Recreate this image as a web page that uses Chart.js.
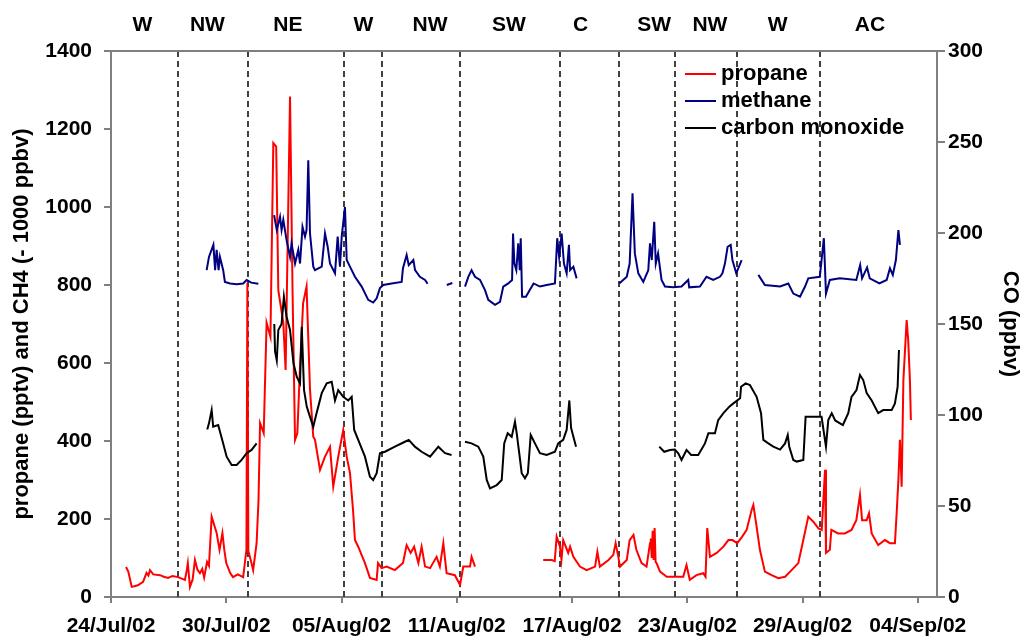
<!DOCTYPE html>
<html><head><meta charset="utf-8">
<script src="https://cdn.jsdelivr.net/npm/chart.js@4.4.0/dist/chart.umd.min.js"></script>
<style>html,body{margin:0;padding:0;background:#fff;}#wrap{width:1025px;height:640px;}</style>
</head><body><div id="wrap"><canvas id="c" width="1025" height="640"></canvas></div>
<script>
// x axis: days since 24/Jul/02 00:00
const tickDays = [0,6,12,18,24,30,36,42];
const tickLabels = ['24/Jul/02','30/Jul/02','05/Aug/02','11/Aug/02','17/Aug/02','23/Aug/02','29/Aug/02','04/Sep/02'];
const sectorDays = [3.49,7.13,12.13,14.1,18.17,23.37,26.44,29.36,32.59,36.9];
const regionLabels = ['W','NW','NE','W','NW','SW','C','SW','NW','W','AC'];
const regionDays = [1.64,5.02,9.21,13.14,16.61,20.72,24.45,28.27,31.18,34.7,39.51];

// propane (pptv), [day, value]
const propane = [[0.78,77],[0.9,65],[1.08,26],[1.4,30],[1.67,39],[1.85,62],[1.95,55],[2.03,69],[2.2,58],[2.55,56],[2.75,52],[2.97,49],[3.2,54],[3.49,51],[3.85,44],[3.95,70],[4.0,87],[4.11,26],[4.25,45],[4.37,95],[4.5,70],[4.63,61],[4.75,72],[4.85,50],[5.0,90],[5.1,80],[5.24,206],[5.4,180],[5.5,164],[5.65,121],[5.8,164],[5.9,120],[6.0,87],[6.2,62],[6.35,51],[6.6,58],[6.88,51],[7.05,121],[7.1,805],[7.15,118],[7.3,90],[7.4,69],[7.58,138],[7.68,250],[7.76,446],[7.95,420],[8.1,703],[8.3,667],[8.45,1164],[8.6,1155],[8.71,787],[8.97,703],[9.09,582],[9.32,1283],[9.45,787],[9.58,403],[9.7,420],[9.84,590],[10.0,753],[10.18,796],[10.36,531],[10.53,411],[10.62,403],[10.88,326],[11.14,360],[11.4,385],[11.57,283],[11.83,360],[12.09,428],[12.27,360],[12.44,318],[12.6,223],[12.7,146],[12.87,129],[13.22,87],[13.48,49],[13.83,44],[13.9,87],[14.09,74],[14.35,78],[14.78,69],[15.2,87],[15.39,133],[15.6,113],[15.78,129],[16.0,87],[16.17,129],[16.35,78],[16.61,74],[16.95,103],[17.12,78],[17.3,138],[17.47,61],[17.9,56],[18.17,31],[18.34,78],[18.69,78],[18.77,103],[18.95,78],
[20.7,null],
[22.5,95],[22.95,95],[23.1,92],[23.2,155],[23.37,129],[23.45,95],[23.54,146],[23.8,113],[23.9,129],[24.07,103],[24.41,78],[24.76,69],[25.2,78],[25.32,116],[25.45,78],[25.9,95],[26.15,108],[26.27,138],[26.41,103],[26.5,78],[26.85,95],[27.0,146],[27.2,159],[27.35,121],[27.62,87],[27.88,78],[28.06,138],[28.1,150],[28.15,100],[28.2,170],[28.25,95],[28.3,177],[28.35,90],[28.4,87],[28.58,65],[28.93,52],[29.36,52],[29.79,52],[29.96,82],[30.13,44],[30.48,56],[30.83,61],[30.95,52],[31.04,177],[31.18,103],[31.53,113],[31.88,129],[32.14,146],[32.35,146],[32.6,138],[32.86,155],[33.09,172],[33.35,223],[33.44,236],[33.61,180],[33.78,121],[34.04,65],[34.39,56],[34.74,48],[35.09,52],[35.43,69],[35.78,87],[36.04,146],[36.3,206],[36.56,193],[36.83,176],[37.0,172],[37.17,326],[37.22,113],[37.42,121],[37.5,172],[37.85,163],[38.2,163],[38.55,172],[38.8,197],[38.99,262],[39.1,197],[39.34,197],[39.46,215],[39.6,163],[39.94,133],[40.29,146],[40.55,138],[40.81,138],[40.9,215],[40.99,300],[41.07,403],[41.16,283],[41.25,556],[41.42,710],[41.5,659],[41.59,556],[41.64,454]];

// methane (CH4 - 1000 ppbv), [day, value]
const methane = [[4.98,838],[5.1,872],[5.33,903],[5.42,838],[5.5,890],[5.6,838],[5.67,872],[5.84,838],[5.93,808],[6.2,804],[6.54,802],[6.88,804],[7.06,813],[7.3,806],[7.67,803],[8.1,null],
[8.49,979],[8.63,941],[8.8,975],[8.88,941],[8.97,967],[9.14,915],[9.32,872],[9.4,907],[9.58,855],[9.75,890],[9.84,855],[9.97,949],[10.1,924],[10.18,941],[10.27,1120],[10.36,932],[10.53,847],[10.62,838],[10.97,847],[11.14,932],[11.28,898],[11.4,855],[11.66,830],[11.8,924],[11.92,847],[12.01,924],[12.18,1000],[12.27,864],[12.44,847],[12.7,821],[13.05,796],[13.39,762],[13.65,755],[13.83,766],[14.0,792],[14.17,800],[14.61,804],[15.13,808],[15.2,843],[15.39,877],[15.5,851],[15.74,864],[15.83,838],[16.08,821],[16.35,813],[16.48,803],[17.0,null],[17.48,800],[17.77,805],[18.1,null],
[18.43,796],[18.6,821],[18.77,838],[18.95,821],[19.21,813],[19.47,787],[19.64,762],[19.99,749],[20.25,757],[20.42,796],[20.68,804],[20.88,813],[20.93,932],[21.0,855],[21.1,838],[21.2,907],[21.28,838],[21.33,920],[21.4,770],[21.6,770],[21.8,787],[22.0,804],[22.33,796],[22.68,800],[23.11,804],[23.23,920],[23.33,872],[23.46,932],[23.58,855],[23.72,830],[23.84,903],[23.9,838],[24.07,847],[24.24,817],[25.0,null],
[26.46,804],[26.85,821],[27.0,855],[27.15,1035],[27.27,881],[27.45,830],[27.71,808],[27.97,838],[28.06,907],[28.15,864],[28.28,962],[28.36,855],[28.48,881],[28.66,813],[28.84,796],[29.27,794],[29.7,796],[30.05,813],[30.1,794],[30.66,796],[31.0,821],[31.35,813],[31.7,821],[31.83,830],[31.96,855],[32.1,898],[32.26,903],[32.35,864],[32.55,830],[32.83,864],[33.2,null],
[33.7,826],[34.04,800],[34.83,796],[35.26,804],[35.52,778],[35.87,770],[36.13,796],[36.3,817],[36.9,821],[37.11,920],[37.22,778],[37.42,813],[37.94,817],[38.8,813],[39.0,851],[39.1,817],[39.36,845],[39.5,817],[40.0,804],[40.38,813],[40.55,843],[40.7,826],[40.86,864],[40.99,941],[41.07,903]];

// carbon monoxide (ppbv), [day, value]
const carbonMonoxide = [[5.01,92],[5.1,95.4],[5.24,102.7],[5.32,93.6],[5.58,94.5],[5.84,84.4],[6.02,77.1],[6.28,72.5],[6.54,72.5],[6.8,75.3],[7.06,79],[7.32,80.8],[7.58,84.4],[8.0,null],
[8.5,150],[8.54,135],[8.63,130],[8.71,146.7],[8.88,150],[9.0,165],[9.14,154],[9.32,146.7],[9.5,128.4],[9.67,121],[9.84,117.4],[9.93,148.5],[10.05,113.7],[10.19,104.6],[10.36,99],[10.53,93.6],[10.7,101],[10.79,104.6],[10.97,112],[11.23,117.4],[11.49,118.3],[11.66,108],[11.83,113.7],[12.09,110],[12.35,108],[12.53,110],[12.66,91.8],[12.87,86.3],[13.22,77.1],[13.48,66.1],[13.65,64.3],[13.83,68],[14.0,79],[14.26,79.8],[14.78,82.6],[15.3,85.3],[15.5,86.3],[15.82,82.6],[16.17,79.8],[16.61,77.1],[17.04,82.6],[17.39,79],[17.73,78],[18.1,null],
[18.43,85.3],[18.77,84.4],[19.12,82.6],[19.38,77.1],[19.56,64.3],[19.73,59.7],[20.08,61.5],[20.34,64.3],[20.47,84.4],[20.65,90],[20.86,88],[21.03,96.3],[21.12,90],[21.3,75],[21.38,68],[21.55,65.2],[21.7,68],[21.85,89],[22.07,84.4],[22.33,79],[22.68,78],[23.11,79.8],[23.28,84.4],[23.54,86.3],[23.72,91.8],[23.86,108],[23.95,93],[24.07,88],[24.21,82.6],[26.0,null],
[28.54,82.6],[28.8,79.8],[29.1,80.8],[29.35,81],[29.53,79],[29.7,75.3],[29.96,80.8],[30.2,78],[30.57,78],[30.92,84.4],[31.1,90],[31.44,90],[31.61,97.2],[31.88,101],[32.19,104.6],[32.4,106.4],[32.75,109.2],[32.8,115.5],[33.04,117.4],[33.26,116.5],[33.61,110],[33.84,101],[33.96,86.3],[34.22,84.4],[34.48,82.6],[34.83,81],[35.09,84.4],[35.23,89],[35.31,82.6],[35.52,75.3],[35.7,74.4],[36.04,75.3],[36.16,99],[36.47,99],[36.99,99],[37.22,82.6],[37.34,97.2],[37.52,101],[37.7,97],[38.1,94.5],[38.38,101],[38.55,110],[38.81,113.7],[38.99,122],[39.16,119.2],[39.34,112],[39.6,108],[39.94,101],[40.2,102.7],[40.64,102.7],[40.81,106.4],[40.95,115.5],[41.02,135.7]];

const FONT = '"Liberation Sans", Arial, sans-serif';
const toXY = arr => arr.map(p => ({x: p[0], y: p[1]}));

const overlay = {
  id: 'overlay',
  beforeDatasetsDraw(chart) {
    const {ctx, chartArea: a, scales: {x}} = chart;
    ctx.save();
    ctx.strokeStyle = '#404040'; ctx.lineWidth = 2; ctx.setLineDash([6, 4]);
    sectorDays.forEach(d => {
      const px = Math.round(x.getPixelForValue(d));
      ctx.beginPath(); ctx.moveTo(px, a.top); ctx.lineTo(px, a.bottom); ctx.stroke();
    });
    ctx.restore();
  },
  afterDraw(chart) {
    const {ctx, chartArea: a, scales: {x}} = chart;
    ctx.save();
    ctx.strokeStyle = '#808080'; ctx.lineWidth = 2;
    ctx.beginPath(); ctx.moveTo(a.left, a.top); ctx.lineTo(a.right, a.top); ctx.stroke();
    ctx.fillStyle = '#000'; ctx.font = 'bold 21px ' + FONT;
    ctx.textAlign = 'center'; ctx.textBaseline = 'middle';
    regionLabels.forEach((t, i) => ctx.fillText(t, x.getPixelForValue(regionDays[i]), 25));
    ctx.textAlign = 'left'; ctx.font = 'bold 22px ' + FONT;
    chart.data.datasets.forEach((ds, i) => {
      const y = 74 + i * 27;
      ctx.strokeStyle = ds.borderColor; ctx.lineWidth = 2;
      ctx.beginPath(); ctx.moveTo(685, y); ctx.lineTo(716, y); ctx.stroke();
      ctx.fillText(ds.label, 721, y);
    });
    ctx.restore();
  }
};

const tickFont = {family: FONT, size: 21, weight: 'bold'};
const gridOpt = len => ({drawOnChartArea: false, drawTicks: true, tickLength: len, color: '#808080', lineWidth: 2});
const borderOpt = {display: true, color: '#808080', width: 2};

new Chart(document.getElementById('c'), {
  type: 'line',
  data: {
    datasets: [
      {label: 'propane', data: toXY(propane), borderColor: '#ff0000', yAxisID: 'y', order: 3},
      {label: 'methane', data: toXY(methane), borderColor: '#000080', yAxisID: 'y', order: 2},
      {label: 'carbon monoxide', data: toXY(carbonMonoxide), borderColor: '#000000', yAxisID: 'y1', order: 1}
    ]
  },
  options: {
    responsive: false, animation: false, devicePixelRatio: 1,
    spanGaps: false,
    elements: {point: {radius: 0}, line: {borderWidth: 2, tension: 0}},
    layout: {padding: {top: 51, left: 0, right: 0, bottom: 0}},
    plugins: {legend: {display: false}, tooltip: {enabled: false}},
    scales: {
      x: {
        type: 'linear', min: 0, max: 43,
        afterBuildTicks: s => { s.ticks = tickDays.map(v => ({value: v})); },
        afterFit: s => { s.height = 43; },
        ticks: {autoSkip: false, maxRotation: 0, padding: 11, color: '#000', font: tickFont,
          callback: v => tickLabels[tickDays.indexOf(v)]},
        grid: gridOpt(6), border: borderOpt
      },
      y: {
        position: 'left', min: 0, max: 1400,
        afterFit: s => { s.width = 111; },
        ticks: {stepSize: 200, padding: 12, color: '#000', font: tickFont, callback: v => String(v)},
        grid: gridOpt(7), border: borderOpt,
        title: {display: true, text: 'propane (pptv) and CH4 (- 1000 ppbv)', color: '#000',
          font: {family: FONT, size: 22, weight: 'bold'}, padding: {top: 9, bottom: 0}}
      },
      y1: {
        position: 'right', min: 0, max: 300,
        afterFit: s => { s.width = 88; },
        ticks: {stepSize: 50, padding: 3, color: '#000', font: tickFont, callback: v => String(v)},
        grid: gridOpt(8), border: borderOpt,
        title: {display: true, text: 'CO (ppbv)', color: '#000',
          font: {family: FONT, size: 22, weight: 'bold'}, padding: {top: 2, bottom: 0}}
      }
    }
  },
  plugins: [overlay]
});
</script></body></html>
